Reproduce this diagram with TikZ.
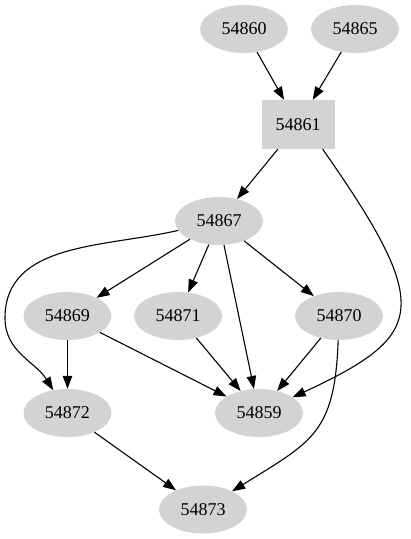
\documentclass[tikz,border=0pt]{standalone}
\usepackage{fontspec}
\setmainfont{Liberation Serif}
\usetikzlibrary{shapes.geometric, arrows.meta, positioning}
\definecolor{jobgray}{HTML}{D3D3D3}
\tikzstyle{job} = [ellipse, fill=jobgray, inner sep=0pt, minimum width=88pt, minimum height=48pt, font=\fontsize{18}{20}\selectfont]
\tikzstyle{hub} = [rectangle, fill=jobgray, inner sep=0pt, minimum width=73pt, minimum height=49pt, font=\fontsize{18}{20}\selectfont]
\tikzstyle{dep} = [line width=1.1pt, -{Triangle[length=13pt, width=9.5pt]}, black]
\begin{document}
\begin{tikzpicture}[x=1pt, y=-1pt]
	\useasboundingbox (0,0) rectangle (411,539);

	% Top row
	\node (n54860) [job] at (244,29) {54860};
	\node (n54865) [job] at (355,29) {54865};

	% Box
	\node (n54861) [hub] at (298,124.5) {54861};

	% Middle
	\node (n54867) [job] at (219,221) {54867};
	\node (n54869) [job] at (67.5,316) {54869};
	\node (n54871) [job] at (178,316) {54871};
	\node (n54870) [job] at (339,316) {54870};

	% Bottom
	\node (n54872) [job] at (67.5,413) {54872};
	\node (n54859) [job] at (259,413) {54859};
	\node (n54873) [job] at (203,509.5) {54873};

	% Bend of the long left edge
	\coordinate (bendL) at (5,318);

	% Arrows
	\draw[dep] (n54860) -- (n54861);
	\draw[dep] (n54865) -- (n54861);
	\draw[dep] (n54861) -- (n54867);
	\draw[dep] (n54861.-45) to[out=-55, in=25, out looseness=2, in looseness=1.5] (n54859);
	\draw[dep] (n54867) -- (n54869);
	\draw[dep] (n54867) -- (n54871);
	\draw[dep] (n54867) -- (n54870);
	\draw[dep] (n54867) -- (n54859);
	\draw[dep] (n54867) to[out=193, in=90] (bendL) to[out=-90, in=122] (n54872);
	\draw[dep] (n54869) -- (n54872);
	\draw[dep] (n54869) -- (n54859);
	\draw[dep] (n54871) -- (n54859);
	\draw[dep] (n54870) -- (n54859);
	\draw[dep] (n54870) to[out=-92, in=32, looseness=1.3] (n54873);
	\draw[dep] (n54872) -- (n54873);

\end{tikzpicture}
\end{document}
